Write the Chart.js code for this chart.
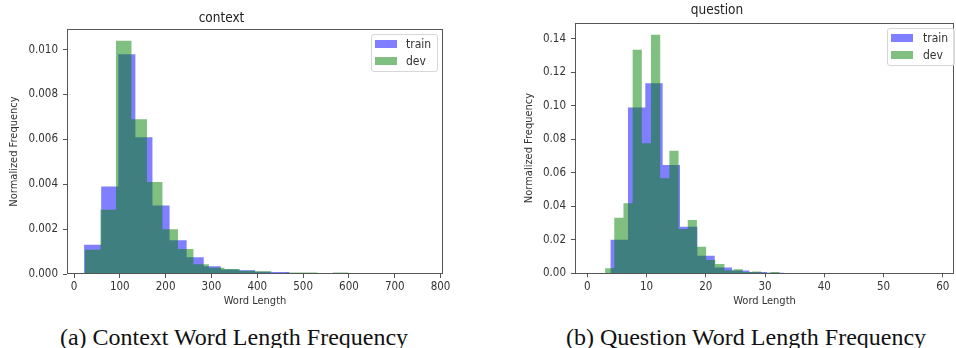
<!DOCTYPE html>
<html lang="en">
<head>
    <meta charset="UTF-8">
    <title>Word Length Frequency</title>
    <script src="https://cdn.jsdelivr.net/npm/chart.js"></script>
    <style>
        body {
            margin: 0;
            width: 956px;
            height: 348px;
            background: #fff;
            position: relative;
            overflow: hidden;
            font-family: 'DejaVu Sans Condensed', 'DejaVu Sans', sans-serif;
        }
        canvas {
            position: absolute;
            top: 0;
        }
        .legend-box {
            position: absolute;
            border: 1px solid #d6d6d6;
            border-radius: 3px;
            background: rgba(255, 255, 255, 0.8);
            box-sizing: border-box;
        }
        .patch {
            position: absolute;
            width: 22px;
            height: 8px;
        }
        .lbl {
            position: absolute;
            font-size: 12px;
            line-height: 14px;
            color: #333;
        }
        .caption {
            position: absolute;
            top: 325px;
            font-family: 'Liberation Serif', 'Times New Roman', serif;
            font-size: 24px;
            line-height: 24px;
            color: #111;
            text-align: center;
            white-space: nowrap;
        }
    </style>
</head>
<body>

    <canvas id="contextChart" width="470" height="318" style="left:0px"></canvas>
    <canvas id="questionChart" width="476" height="318" style="left:480px"></canvas>

    <!-- legends -->
    <div class="legend-box" style="left:371px; top:34px; width:67px; height:38px;"></div>
    <div class="patch" style="left:375px; top:40px; background:rgba(0,0,255,0.5)"></div>
    <div class="patch" style="left:375px; top:57px; background:rgba(0,128,0,0.5)"></div>
    <span class="lbl" style="left:406px; top:37px;">train</span>
    <span class="lbl" style="left:406px; top:54px;">dev</span>

    <div class="legend-box" style="left:887px; top:28px; width:68px; height:38px;"></div>
    <div class="patch" style="left:891px; top:34px; background:rgba(0,0,255,0.5)"></div>
    <div class="patch" style="left:891px; top:51px; background:rgba(0,128,0,0.5)"></div>
    <span class="lbl" style="left:923px; top:31px;">train</span>
    <span class="lbl" style="left:923px; top:48px;">dev</span>

    <div class="caption" style="left:0px; width:468px;">(a) Context Word Length Frequency</div>
    <div class="caption" style="left:536px; width:420px;">(b) Question Word Length Frequency</div>

    <script>
        // context : bin edges and normalized frequencies
        const ctxTrainEdges = [22, 59.3, 96.6, 133.9, 171.2, 208.5, 245.8, 283.1, 320.4, 357.7, 395, 432.3, 469.6, 506.9, 544.2, 581.5, 618.8, 656.1, 693.4, 730.7, 768];
        const ctxTrainFreq = [0.0013, 0.0039, 0.0098, 0.0061, 0.00305, 0.0015, 0.00075, 0.00034, 0.0002, 0.00017, 0.0001, 0.00009, 0.00004, 0.00003, 0.00002, 0.00001, 0.00001, 0.000005, 0.000003, 0.000002];
        const ctxDevEdges = [24, 57.8, 91.6, 125.4, 159.2, 193, 226.8, 260.6, 294.4, 328.2, 362, 395.8, 429.6, 463.4, 497.2, 531, 564.8, 598.6, 632.4, 666.2, 700];
        const ctxDevFreq = [0.00108, 0.00286, 0.0104, 0.0069, 0.0041, 0.0020, 0.00111, 0.00044, 0.00028, 0.00022, 0.00015, 0.00012, 0.00005, 0.00007, 0.00007, 0.00002, 0.00007, 0.00001, 0, 0.000015];
        const ctxXTicks = [0, 100, 200, 300, 400, 500, 600, 700, 800];
        const ctxYTicks = [0, 0.002, 0.004, 0.006, 0.008, 0.010];

        // question : bin edges and normalized frequencies
        const qTrainEdges = [1, 3.93, 6.86, 9.79, 12.72, 15.65, 18.58, 21.51, 24.44, 27.37, 30.3, 33.23, 36.16, 39.09, 42.02, 44.95, 47.88, 50.81, 53.74, 56.67, 59.6];
        const qTrainFreq = [0.0002, 0.0200, 0.0990, 0.1135, 0.0647, 0.0278, 0.0105, 0.0034, 0.0016, 0.0008, 0.0004, 0.0002, 0.0001, 0.00005, 0.00003, 0.00002, 0.00001, 0.00001, 0, 0.00001];
        const qDevEdges = [3, 4.55, 6.1, 7.65, 9.2, 10.75, 12.3, 13.85, 15.4, 16.95, 18.5, 20.05, 21.6, 23.15, 24.7, 26.25, 27.8, 29.35, 30.9, 32.45, 34];
        const qDevFreq = [0.003, 0.0332, 0.0418, 0.1334, 0.0777, 0.1424, 0.0568, 0.0731, 0.0265, 0.0318, 0.0159, 0.008, 0.0056, 0.0018, 0.0024, 0.0008, 0.001, 0.0003, 0.0008, 0.0002];
        const qXTicks = [0, 10, 20, 30, 40, 50, 60];
        const qYTicks = [0, 0.02, 0.04, 0.06, 0.08, 0.10, 0.12, 0.14];

        const FONT = "'DejaVu Sans Condensed', 'DejaVu Sans', sans-serif";
        const INK = '#333';
        const AXIS = '#555';

        // histogram as a filled step line
        function histDataset(label, edges, freq, color, order) {
            const pts = edges.map((e, i) => ({ x: e, y: freq[Math.min(i, freq.length - 1)] }));
            return {
                label: label,
                data: pts,
                stepped: true,
                fill: 'origin',
                backgroundColor: color,
                borderColor: 'transparent',
                borderWidth: 0,
                pointRadius: 0,
                pointHoverRadius: 0,
                order: order
            };
        }

        // box around the plot area like matplotlib spines
        const framePlugin = {
            id: 'frame',
            afterDraw(chart) {
                const a = chart.chartArea;
                const c = chart.ctx;
                c.save();
                c.strokeStyle = AXIS;
                c.lineWidth = 1;
                c.strokeRect(Math.round(a.left) + 0.5, Math.round(a.top) + 0.5,
                    Math.round(a.right - a.left) - 1, Math.round(a.bottom - a.top) - 1);
                c.restore();
            }
        };

        function makeChart(id, cfg) {
            new Chart(document.getElementById(id), {
                type: 'line',
                data: {
                    datasets: [
                        histDataset('train', cfg.trainEdges, cfg.trainFreq, 'rgba(0,0,255,0.5)', 1),
                        histDataset('dev', cfg.devEdges, cfg.devFreq, 'rgba(0,128,0,0.5)', 0)
                    ]
                },
                options: {
                    responsive: false,
                    animation: false,
                    devicePixelRatio: 1,
                    layout: { padding: { left: 0, right: cfg.padRight, top: 0, bottom: 0 } },
                    plugins: {
                        legend: { display: false },
                        tooltip: { enabled: false },
                        title: {
                            display: true,
                            text: cfg.title,
                            color: '#222',
                            font: { family: FONT, size: 13.5, weight: 'normal' },
                            padding: cfg.titlePad
                        }
                    },
                    scales: {
                        x: {
                            type: 'linear',
                            min: cfg.xMin,
                            max: cfg.xMax,
                            afterBuildTicks: s => { s.ticks = cfg.xTicks.map(v => ({ value: v })); },
                            afterFit: s => { s.height = 318 - cfg.plotBottom; },
                            grid: { display: true, drawOnChartArea: false, drawTicks: true, tickLength: 4, color: AXIS },
                            border: { display: false },
                            ticks: {
                                color: INK, padding: 2.5, maxRotation: 0, autoSkip: false,
                                font: { family: FONT, size: 11.5 },
                                callback: v => String(v)
                            },
                            title: {
                                display: true, text: 'Word Length', color: INK,
                                font: { family: FONT, size: 11 },
                                padding: { top: 0, bottom: 10.4 }
                            }
                        },
                        y: {
                            type: 'linear',
                            min: 0,
                            max: cfg.yMax,
                            afterBuildTicks: s => { s.ticks = cfg.yTicks.map(v => ({ value: v })); },
                            afterFit: s => { s.width = cfg.plotLeft; },
                            grid: { display: true, drawOnChartArea: false, drawTicks: true, tickLength: 4, color: AXIS },
                            border: { display: false },
                            ticks: {
                                color: INK, padding: 5, autoSkip: false,
                                font: { family: FONT, size: 11.5 },
                                callback: v => v.toFixed(cfg.digits)
                            },
                            title: {
                                display: true, text: 'Normalized Frequency', color: INK,
                                font: { family: FONT, size: 11 },
                                padding: { top: cfg.yTitlePad, bottom: 0 }
                            }
                        }
                    }
                },
                plugins: [framePlugin]
            });
        }

        makeChart('contextChart', {
            title: 'context',
            trainEdges: ctxTrainEdges, trainFreq: ctxTrainFreq,
            devEdges: ctxDevEdges, devFreq: ctxDevFreq,
            xTicks: ctxXTicks, yTicks: ctxYTicks,
            xMin: -15.3, xMax: 805.3, yMax: 0.01092, digits: 3,
            plotLeft: 67, plotBottom: 274, padRight: 27,
            titlePad: { top: 10.5, bottom: 2.3 },
            yTitlePad: 7.4
        });

        makeChart('questionChart', {
            title: 'question',
            trainEdges: qTrainEdges, trainFreq: qTrainFreq,
            devEdges: qDevEdges, devFreq: qDevFreq,
            xTicks: qXTicks, yTicks: qYTicks,
            xMin: -2.08, xMax: 61.9, yMax: 0.1496, digits: 2,
            plotLeft: 95, plotBottom: 273.3, padRight: 2,
            titlePad: { top: 2.7, bottom: 3.8 },
            yTitlePad: 42.7
        });
    </script>

</body>
</html>
